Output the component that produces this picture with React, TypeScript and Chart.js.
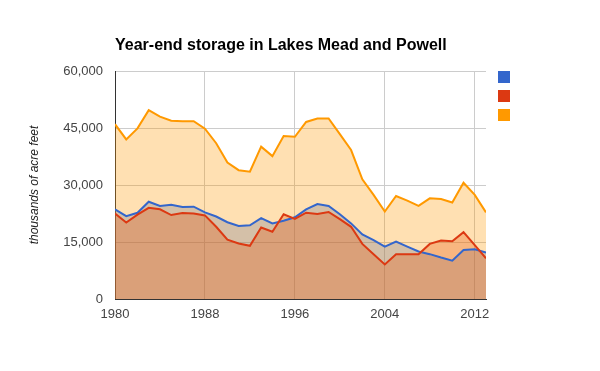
import React, { useEffect, useRef } from "react";
import { Chart, registerables } from "chart.js";

Chart.register(...registerables);

const years = [
  1980, 1981, 1982, 1983, 1984, 1985, 1986, 1987, 1988, 1989,
  1990, 1991, 1992, 1993, 1994, 1995, 1996, 1997, 1998, 1999,
  2000, 2001, 2002, 2003, 2004, 2005, 2006, 2007, 2008, 2009,
  2010, 2011, 2012, 2013,
];

const meadValues = [
  23600, 21800, 22700, 25600, 24500, 24800, 24200, 24300, 22800, 21700,
  20200, 19200, 19400, 21300, 19900, 20600, 21500, 23600, 25000, 24500,
  22300, 19900, 17000, 15500, 13800, 15100, 13800, 12500, 11800, 10900,
  10100, 12900, 13100, 12200,
];

const powellValues = [
  22500, 20100, 22200, 24000, 23600, 22100, 22600, 22500, 22000, 19000,
  15600, 14600, 14000, 18800, 17700, 22300, 21100, 22700, 22400, 22900,
  21000, 19000, 14500, 11800, 9100, 11800, 11800, 11800, 14500, 15400,
  15200, 17600, 14200, 10700,
];

const totalValues = [
  46000, 42000, 44900, 49700, 48000, 46900, 46800, 46800, 44800, 41000,
  35900, 33900, 33500, 40100, 37600, 42900, 42700, 46600, 47500, 47500,
  43400, 39200, 31500, 27400, 23000, 27100, 25900, 24500, 26500, 26300,
  25400, 30600, 27400, 22800,
];

const xTickValues = [1980, 1988, 1996, 2004, 2012];
const yTickValues = [0, 15000, 30000, 45000, 60000];

const seriesColors = ["#3366cc", "#dc3912", "#ff9900"];
const fillColors = [
  "rgba(51,102,204,0.3)",
  "rgba(220,57,18,0.3)",
  "rgba(255,153,0,0.3)",
];

const titleText = "Year-end storage in Lakes Mead and Powell";
const yAxisTitle = "thousands of acre feet";

const FONT = "Arial, 'Liberation Sans', sans-serif";

const toPoints = (vals: number[]) => vals.map((v, i) => ({ x: years[i], y: v }));

const decorPlugin = {
  id: "decor",
  afterDraw(chart: any) {
    const { ctx, chartArea } = chart;
    ctx.save();
    // Title
    ctx.fillStyle = "#000";
    ctx.font = `bold 16px ${FONT}`;
    ctx.textAlign = "left";
    ctx.textBaseline = "middle";
    ctx.fillText(titleText, chartArea.left, 46);
    // Y axis title
    ctx.save();
    ctx.translate(35, (chartArea.top + chartArea.bottom) / 2);
    ctx.rotate(-Math.PI / 2);
    ctx.font = `italic 12px ${FONT}`;
    ctx.fillStyle = "#222";
    ctx.textAlign = "center";
    ctx.textBaseline = "middle";
    ctx.fillText(yAxisTitle, 0, 0);
    ctx.restore();
    // Legend squares
    const lx = chartArea.right + 12;
    seriesColors.forEach((c, i) => {
      ctx.fillStyle = c;
      ctx.fillRect(lx, chartArea.top + i * 19, 12, 12);
    });
    ctx.restore();
  },
};

export default function App() {
  const ref = useRef<HTMLCanvasElement | null>(null);

  useEffect(() => {
    if (!ref.current) return;
    const datasets = [meadValues, powellValues, totalValues].map((vals, i) => ({
      label: "",
      data: toPoints(vals),
      borderColor: seriesColors[i],
      backgroundColor: fillColors[i],
      borderWidth: 2,
      pointRadius: 0,
      pointHoverRadius: 0,
      fill: "origin",
      tension: 0,
      order: 3 - i,
    }));

    const chart = new Chart(ref.current, {
      type: "line",
      data: { datasets },
      options: {
        animation: false,
        responsive: false,
        maintainAspectRatio: false,
        devicePixelRatio: 1,
        layout: { padding: { left: 0, right: 114, top: 71, bottom: 0 } },
        plugins: {
          legend: { display: false },
          title: { display: false },
          tooltip: { enabled: false },
          filler: { drawTime: "beforeDatasetsDraw" },
        },
        scales: {
          x: {
            type: "linear",
            min: 1980,
            max: 2013,
            afterBuildTicks: (s: any) => {
              s.ticks = xTickValues.map((v) => ({ value: v }));
            },
            afterFit: (s: any) => {
              s.height = 72;
            },
            grid: { color: "#cccccc", drawTicks: false },
            border: { color: "#333333", width: 1 },
            ticks: {
              padding: 8,
              color: "#444",
              font: { family: FONT, size: 13 },
              maxRotation: 0,
              callback: (v: any) => String(v),
            },
          },
          y: {
            type: "linear",
            min: 0,
            max: 60000,
            afterBuildTicks: (s: any) => {
              s.ticks = yTickValues.map((v) => ({ value: v }));
            },
            afterFit: (s: any) => {
              s.width = 115;
            },
            grid: { color: "#cccccc", drawTicks: false },
            border: { color: "#333333", width: 1 },
            ticks: {
              padding: 12,
              color: "#444",
              font: { family: FONT, size: 13 },
              callback: (v: any) => Number(v).toLocaleString("en-US"),
            },
          },
        },
      },
      plugins: [decorPlugin],
    });
    return () => chart.destroy();
  }, []);

  return (
    <div style={{ position: "absolute", left: 0, top: 0, width: 600, height: 371, background: "#fff" }}>
      <canvas ref={ref} width={600} height={371} style={{ width: 600, height: 371 }} />
    </div>
  );
}
